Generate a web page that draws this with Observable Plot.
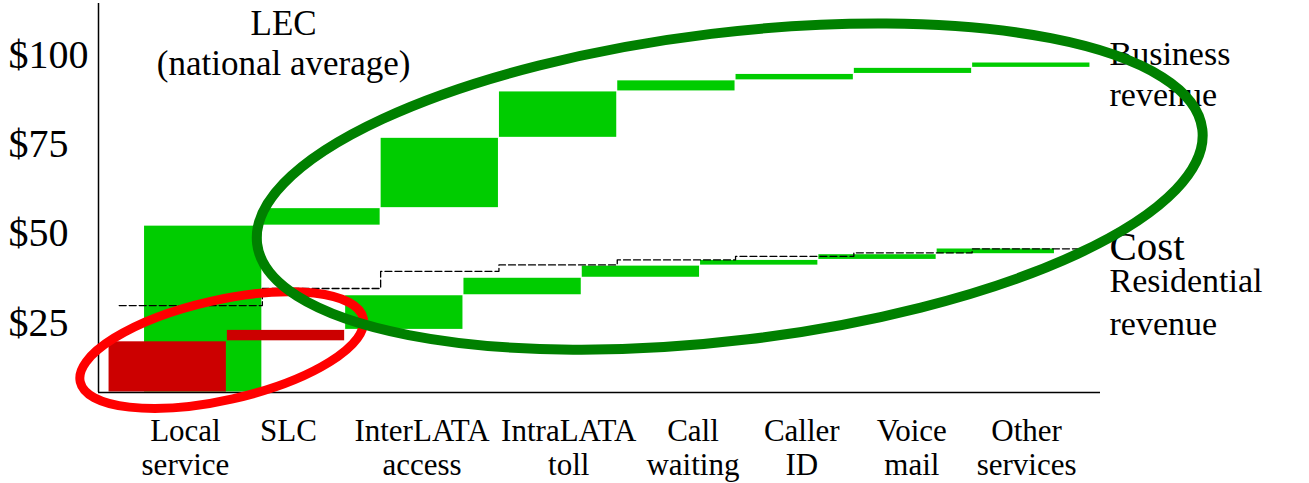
<!DOCTYPE html>
<html>
<head>
<meta charset="utf-8">
<script src="https://cdn.jsdelivr.net/npm/d3@7"></script>
<script src="https://cdn.jsdelivr.net/npm/@observablehq/plot@0.6"></script>
<style>
  html, body { margin: 0; padding: 0; background: #fff; }
  #chart svg { display: block; font-family: "Liberation Serif", "Times New Roman", Times, serif; }
  #chart svg text { font-family: "Liberation Serif", "Times New Roman", Times, serif; }
</style>
</head>
<body>
<div id="chart"></div>
<script>
// Monthly revenue per line, built up service by service (dollars)
const categories = ["Local service", "SLC", "InterLATA access", "IntraLATA toll",
                    "Call waiting", "Caller ID", "Voice mail", "Other services"];
const residentialRevenue = [19.8, 3.2, 9.7, 4.9, 3.4, 1.6, 1.6, 1.6];
const businessRevenue    = [52.2, 4.9, 19.7, 13.0, 3.1, 1.8, 1.7, 1.5];
const costPerLine        = [29.8, 4.8, 4.8, 1.8, 1.4, 1.0, 1.0, 1.1];
// residential services priced under cost
const belowCost = ["Local service", "SLC"];
const yTicks = [25, 50, 75, 100];

const GREEN = "#00cc00", RED = "#cc0000";
const SERIF = "Liberation Serif";

const cumRes = d3.cumsum(residentialRevenue);
const cumBus = d3.cumsum(businessRevenue);
const cumCost = d3.cumsum(costPerLine);

// Waterfall steps: business columns sit a little to the right of residential ones
const BUS_SHIFT = 0.3;
const resSteps = categories.map((c, i) => ({
  category: c, x1: i, x2: i + 1,
  y1: i ? cumRes[i - 1] : 0, y2: cumRes[i],
  under: belowCost.includes(c)
}));
const busSteps = categories.map((c, i) => ({
  category: c, x1: i + BUS_SHIFT, x2: i + 1 + BUS_SHIFT,
  y1: i ? cumBus[i - 1] : 0, y2: cumBus[i]
}));

// Cumulative cost as a dashed staircase
const costPath = categories.map((c, i) => ({x: i === 0 ? 0.09 : i + BUS_SHIFT, y: cumCost[i]}));
costPath.push({x: 8.2, y: cumCost[cumCost.length - 1]});

// Service names sit under each residential/business pair, nudged so long names don't collide
const labelNudge = [0, -0.13, 0, 0.24, 0.29, 0.21, 0.14, 0.11];

const xDomain = [-0.085, 8.385];
const yDomain = [5.46, 114.43];

const plot = Plot.plot({
  width: 1309,
  height: 483,
  marginLeft: 98,
  marginRight: 209,
  marginTop: 3,
  marginBottom: 91,
  style: {background: "white", color: "black", overflow: "visible"},
  x: {domain: xDomain, axis: null},
  y: {domain: yDomain, clamp: true, axis: null},
  marks: [
    Plot.rect(busSteps, {x1: "x1", x2: "x2", y1: "y1", y2: "y2", fill: GREEN,
      insetLeft: 0.5, insetRight: 0.5, insetTop: 0.5, insetBottom: 0.5}),
    Plot.rect(resSteps, {x1: "x1", x2: "x2", y1: "y1", y2: "y2",
      fill: d => d.under ? RED : GREEN,
      insetLeft: 0.5, insetRight: 0.5, insetTop: 0.5, insetBottom: 0.5}),
    Plot.line(costPath, {x: "x", y: "y", curve: "step-after", stroke: "black",
      strokeWidth: 1.3, strokeDasharray: "7,3"}),
    Plot.ruleX([xDomain[0]], {stroke: "black", strokeWidth: 1.5}),
    Plot.ruleY([yDomain[0]], {stroke: "black", strokeWidth: 1.5}),
    // dollar labels on the value axis
    Plot.text(yTicks, {y: d => d, text: d => "$" + d, frameAnchor: "left", dx: -90,
      textAnchor: "start", fontSize: 40, fontFamily: SERIF}),
    // service names under the columns
    Plot.text(categories, {x: (d, i) => i + 0.65 + labelNudge[i], text: d => d.replace(" ", "\n"),
      frameAnchor: "bottom", lineAnchor: "top", dy: 24, fontSize: 31, lineHeight: 1.1,
      fontFamily: SERIF}),
    Plot.text(["LEC\n(national average)"], {x: 1.48, frameAnchor: "top", lineAnchor: "top",
      dy: 3, fontSize: 35, lineHeight: 1.14, fontFamily: SERIF}),
    // series labels at the end of each staircase
    Plot.text(["Business\nrevenue"], {y: cumBus[cumBus.length - 1], frameAnchor: "right",
      textAnchor: "start", dx: 9, lineAnchor: "top", dy: -27, fontSize: 34, lineHeight: 1.22,
      fontFamily: SERIF}),
    Plot.text(["Cost"], {y: cumCost[cumCost.length - 1], frameAnchor: "right",
      textAnchor: "start", dx: 9, dy: -2, fontSize: 41, fontFamily: SERIF}),
    Plot.text(["Residential\nrevenue"], {y: cumRes[cumRes.length - 1], frameAnchor: "right",
      textAnchor: "start", dx: 9, lineAnchor: "top", dy: 14, fontSize: 34, lineHeight: 1.24,
      fontFamily: SERIF})
  ]
});

// Highlight rings drawn over the chart
const svg = d3.select(plot);
function scaleFn(name) {
  const s = plot.scale(name);
  return s.apply ? s.apply : d3.scaleLinear(s.domain, s.range);
}
const X = scaleFn("x"), Y = scaleFn("y");
function ring({cx, cy, rx, ry, angle, color, width}) {
  const px = X(cx), py = Y(cy);
  const rpx = Math.abs(X(cx + rx) - px), rpy = Math.abs(Y(cy + ry) - py);
  svg.append("ellipse")
    .attr("cx", px).attr("cy", py).attr("rx", rpx).attr("ry", rpy)
    .attr("transform", `rotate(${angle} ${px} ${py})`)
    .attr("fill", "none").attr("stroke", color).attr("stroke-width", width);
}
ring({cx: 0.961, cy: 17.2, rx: 1.226, ry: 14.0, angle: -12.7, color: "#ff0000", width: 9});
ring({cx: 5.255, cy: 63.0, rx: 4.024, ry: 43.1, angle: -6.9, color: "#008000", width: 10});

document.getElementById("chart").append(plot);
</script>
</body>
</html>
